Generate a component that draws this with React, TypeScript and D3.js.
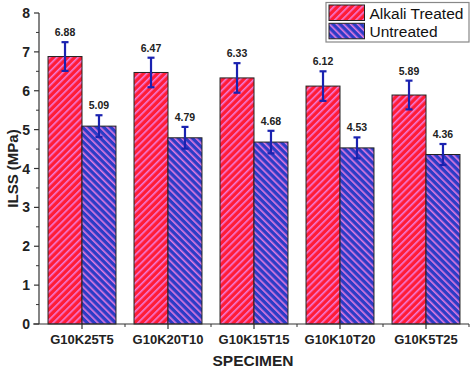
import React from 'react';
import * as d3 from 'd3';

const specimens = ['G10K25T5', 'G10K20T10', 'G10K15T15', 'G10K10T20', 'G10K5T25'];
const treated = [6.88, 6.47, 6.33, 6.12, 5.89];
const treatedErr = [0.37, 0.38, 0.38, 0.38, 0.37];
const untreated = [5.09, 4.79, 4.68, 4.53, 4.36];
const untreatedErr = [0.28, 0.28, 0.29, 0.27, 0.27];
const yTicks = [0, 1, 2, 3, 4, 5, 6, 7, 8];

const W = 474;
const H = 372;
const font = '"Liberation Sans", Arial, sans-serif';

export default function App() {
  const margin = { left: 39, right: 5, top: 13, bottom: 48 };
  const x = d3.scaleBand().domain(specimens).range([margin.left, W - margin.right]).paddingInner(0.21).paddingOuter(0.105);
  const y = d3.scaleLinear().domain([0, 8]).range([H - margin.bottom, margin.top]);
  const bw = x.bandwidth() / 2;
  const minor = d3.range(0.5, 8, 1);
  const step = x.step();

  const series = [
    { name: 'Alkali Treated', values: treated, err: treatedErr, pat: 'hatchRed', off: 0 },
    { name: 'Untreated', values: untreated, err: untreatedErr, pat: 'hatchBlue', off: bw },
  ];

  return (
    <svg width={W} height={H} style={{ position: 'absolute', left: 0, top: 0, background: '#fff' }}>
      <defs>
        <pattern id="hatchRed" width={5} height={5} patternUnits="userSpaceOnUse" patternTransform="rotate(45)">
          <rect width={5} height={5} fill="#ff1c36" />
          <rect width={1.6} height={5} fill="#f27ad8" />
        </pattern>
        <pattern id="hatchBlue" width={5} height={5} patternUnits="userSpaceOnUse" patternTransform="rotate(-45)">
          <rect width={5} height={5} fill="#2c3cc6" />
          <rect width={1.6} height={5} fill="#e07ae0" />
        </pattern>
      </defs>

      {/* bars */}
      {series.map((s) =>
        specimens.map((c, i) => (
          <rect key={s.name + c} x={x(c)! + s.off} y={y(s.values[i])} width={bw} height={y(0) - y(s.values[i])}
            fill={`url(#${s.pat})`} stroke="#222" strokeWidth={1} />
        ))
      )}

      {/* error bars + labels */}
      {series.map((s) =>
        specimens.map((c, i) => {
          const cx = x(c)! + s.off + bw / 2;
          const top = y(s.values[i] + s.err[i]);
          const bot = y(s.values[i] - s.err[i]);
          return (
            <g key={'e' + s.name + c}>
              <g stroke="#1a22b0" strokeWidth={2.2}>
                <line x1={cx} x2={cx} y1={top} y2={bot} />
                <line x1={cx - 3.5} x2={cx + 3.5} y1={top} y2={top} />
                <line x1={cx - 3.5} x2={cx + 3.5} y1={bot} y2={bot} />
              </g>
              <text x={cx} y={top - 6} textAnchor="middle" fontFamily={font} fontWeight="bold" fontSize={10.5} fill="#222">
                {s.values[i].toFixed(2)}
              </text>
            </g>
          );
        })
      )}

      {/* y axis */}
      <line x1={margin.left} x2={margin.left} y1={y(0)} y2={y(8)} stroke="#333" strokeWidth={1.2} />
      {yTicks.map((t) => (
        <g key={'y' + t}>
          <line x1={margin.left - 5} x2={margin.left} y1={y(t)} y2={y(t)} stroke="#333" strokeWidth={1.2} />
          <text x={margin.left - 9} y={y(t) + 5} textAnchor="end" fontFamily={font} fontWeight="bold" fontSize={14} fill="#222">{t}</text>
        </g>
      ))}
      {minor.map((t) => (
        <line key={'ym' + t} x1={margin.left - 3} x2={margin.left} y1={y(t)} y2={y(t)} stroke="#333" strokeWidth={1} />
      ))}

      {/* x axis */}
      <line x1={33} x2={W - margin.right} y1={y(0)} y2={y(0)} stroke="#333" strokeWidth={1.2} />
      {specimens.map((c) => {
        const cx = x(c)! + x.bandwidth() / 2;
        return (
          <g key={'x' + c}>
            <line x1={cx} x2={cx} y1={y(0)} y2={y(0) + 5} stroke="#333" strokeWidth={1.2} />
            <line x1={cx + step / 2} x2={cx + step / 2} y1={y(0)} y2={y(0) + 3} stroke="#333" strokeWidth={1} />
            <text x={cx} y={y(0) + 20} textAnchor="middle" fontFamily={font} fontWeight="bold" fontSize={13} fill="#222">{c}</text>
          </g>
        );
      })}

      {/* axis titles */}
      <text transform={`translate(18,${(y(0) + y(8)) / 2}) rotate(-90)`} textAnchor="middle" fontFamily={font} fontWeight="bold" fontSize={15} fill="#222">ILSS (MPa)</text>
      <text x={253} y={366} textAnchor="middle" fontFamily={font} fontWeight="bold" fontSize={15.5} fill="#222">SPECIMEN</text>

      {/* legend */}
      <rect x={326} y={2.5} width={143} height={39.5} fill="#fff" stroke="#888" strokeWidth={1.2} />
      {series.map((s, i) => (
        <g key={'lg' + s.name}>
          <rect x={329} y={5 + i * 18.3} width={35.5} height={15.5} fill={`url(#${s.pat})`} stroke="#222" strokeWidth={1} />
          <text x={369.5} y={18.5 + i * 18.3} fontFamily={font} fontSize={15.5} fill="#111">{s.name}</text>
        </g>
      ))}
    </svg>
  );
}
